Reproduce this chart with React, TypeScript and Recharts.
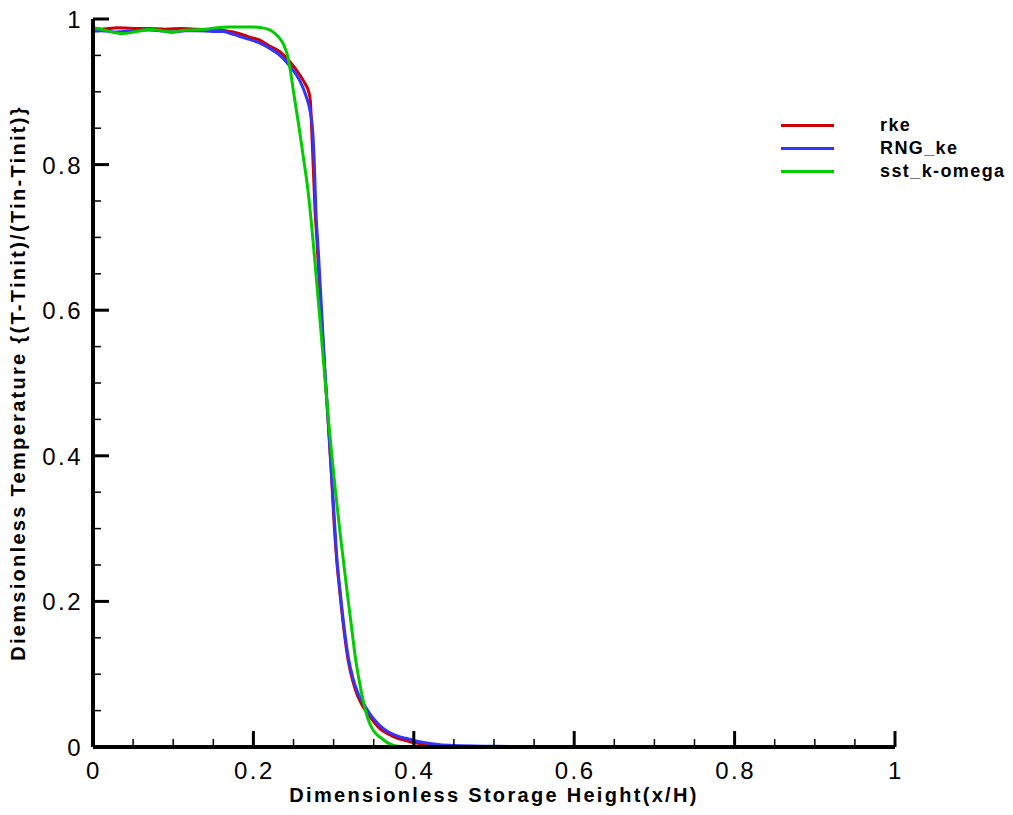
import React from "react";
import { LineChart, Line, XAxis, YAxis, Legend } from "recharts";

const rkePoints: number[][] = [
  [0, 0.988], [0.01, 0.986], [0.02, 0.987], [0.03, 0.988], [0.05, 0.987], [0.07, 0.987],
  [0.09, 0.986], [0.11, 0.987], [0.13, 0.986], [0.15, 0.985], [0.165, 0.984], [0.183, 0.98],
  [0.195, 0.975], [0.208, 0.971], [0.22, 0.963], [0.233, 0.955], [0.245, 0.942], [0.258, 0.923],
  [0.265, 0.91], [0.269, 0.9], [0.271, 0.888], [0.273, 0.84], [0.2745, 0.8], [0.277, 0.734],
  [0.279, 0.7], [0.282, 0.64], [0.286, 0.57], [0.29, 0.5], [0.293, 0.45], [0.297, 0.38],
  [0.301, 0.3], [0.304, 0.255], [0.308, 0.21], [0.313, 0.16], [0.318, 0.12], [0.324, 0.09],
  [0.33, 0.07], [0.337, 0.055], [0.345, 0.042], [0.352, 0.032], [0.358, 0.025], [0.368, 0.018],
  [0.38, 0.012], [0.39, 0.009], [0.4, 0.006], [0.42, 0.003], [0.45, 0.001], [0.5, 0],
  [0.6, 0], [0.8, 0], [1, 0],
];

const rngPoints: number[][] = [
  [0, 0.983], [0.01, 0.984], [0.03, 0.982], [0.05, 0.984], [0.07, 0.985], [0.09, 0.983],
  [0.1, 0.982], [0.115, 0.984], [0.13, 0.984], [0.15, 0.983], [0.162, 0.983], [0.172, 0.98],
  [0.183, 0.976], [0.195, 0.972], [0.208, 0.967], [0.22, 0.96], [0.233, 0.95], [0.245, 0.936],
  [0.258, 0.915], [0.266, 0.893], [0.271, 0.872], [0.274, 0.845], [0.276, 0.8], [0.278, 0.734],
  [0.281, 0.68], [0.285, 0.6], [0.289, 0.52], [0.292, 0.47], [0.296, 0.4], [0.3, 0.33],
  [0.304, 0.26], [0.308, 0.215], [0.313, 0.165], [0.318, 0.125], [0.324, 0.095], [0.33, 0.075],
  [0.337, 0.06], [0.345, 0.046], [0.352, 0.036], [0.358, 0.029], [0.368, 0.021], [0.38, 0.015],
  [0.39, 0.012], [0.4, 0.009], [0.42, 0.005], [0.45, 0.002], [0.5, 0.001], [0.6, 0],
  [0.8, 0], [1, 0],
];

const sstPoints: number[][] = [
  [0, 0.987], [0.01, 0.986], [0.02, 0.983], [0.037, 0.98], [0.05, 0.982], [0.06, 0.984],
  [0.071, 0.986], [0.085, 0.984], [0.1, 0.982], [0.11, 0.984], [0.125, 0.985], [0.14, 0.986],
  [0.155, 0.988], [0.17, 0.989], [0.185, 0.989], [0.2, 0.989], [0.21, 0.988], [0.218, 0.986],
  [0.226, 0.981], [0.233, 0.973], [0.238, 0.964], [0.242, 0.952], [0.246, 0.93], [0.25, 0.9],
  [0.254, 0.872], [0.258, 0.843], [0.263, 0.805], [0.268, 0.765], [0.273, 0.712], [0.278, 0.65],
  [0.283, 0.587], [0.288, 0.522], [0.293, 0.457], [0.298, 0.398], [0.303, 0.345], [0.308, 0.295],
  [0.312, 0.258], [0.317, 0.212], [0.322, 0.168], [0.327, 0.124], [0.333, 0.085], [0.338, 0.058],
  [0.343, 0.038], [0.35, 0.022], [0.355, 0.016], [0.361, 0.011], [0.367, 0.006], [0.373, 0.003],
  [0.38, 0.001], [0.39, 0], [0.5, 0], [1, 0],
];

const seriesNames = ["rke", "RNG_ke", "sst_k-omega"];
const seriesColors = ["#d00000", "#3434ff", "#00cc00"];

const axisTicks = [
  0, 0.05, 0.1, 0.15, 0.2, 0.25, 0.3, 0.35, 0.4, 0.45, 0.5,
  0.55, 0.6, 0.65, 0.7, 0.75, 0.8, 0.85, 0.9, 0.95, 1,
];
const majorTickLabels: Record<string, string> = {
  "0": "0", "0.2": "0.2", "0.4": "0.4", "0.6": "0.6", "0.8": "0.8", "1": "1",
};

const xTitle = "Dimensionless Storage Height(x/H)";
const yTitle = "Diemsionless Temperature {(T-Tinit)/(Tin-Tinit)}";

const toData = (pts: number[][]) => pts.map(([x, t]) => ({ x, t }));

const FONT = "'Liberation Sans', Arial, sans-serif";

const isMajor = (v: number) => Math.abs(v * 5 - Math.round(v * 5)) < 1e-6;
const labelOf = (v: number) => majorTickLabels[String(Math.round(v * 5) / 5)];

const XTick = (props: any) => {
  const { x, y, payload } = props;
  const v = payload.value as number;
  const major = isMajor(v);
  return (
    <g>
      <line x1={x} x2={x} y1={y} y2={y - (major ? 16 : 8)} stroke="#000" strokeWidth={major ? 3 : 1.5} />
      {major && (
        <text x={x + 1} y={y + 32} textAnchor="middle" fontSize={24} letterSpacing={2.5}
          fontFamily={FONT} fill="#000">
          {labelOf(v)}
        </text>
      )}
    </g>
  );
};

const YTick = (props: any) => {
  const { x, y, payload } = props;
  const v = payload.value as number;
  const major = isMajor(v);
  return (
    <g>
      <line x1={x} x2={x + (major ? 16 : 8)} y1={y} y2={y} stroke="#000" strokeWidth={major ? 3 : 1.5} />
      {major && (
        <text x={x - 10} y={y + 9} textAnchor="end" fontSize={24} letterSpacing={2.5}
          fontFamily={FONT} fill="#000">
          {labelOf(v)}
        </text>
      )}
    </g>
  );
};

const LegendContent = () => (
  <div style={{ fontFamily: FONT }}>
    {seriesNames.map((name, i) => (
      <div key={name} style={{ display: "flex", alignItems: "center", height: 23 }}>
        <div style={{ width: 53, height: 3, background: seriesColors[i] }} />
        <div style={{ marginLeft: 46, fontSize: 18, fontWeight: "bold", letterSpacing: 1.4, whiteSpace: "nowrap", color: "#000" }}>
          {name}
        </div>
      </div>
    ))}
  </div>
);

export default function App() {
  const datasets = [toData(rkePoints), toData(rngPoints), toData(sstPoints)];
  return (
    <div style={{ width: 1013, height: 815, background: "#fff", margin: -8 }}>
      <LineChart width={1013} height={815} margin={{ top: 19, right: 118, bottom: 8, left: 33 }}>
        <XAxis
          type="number"
          dataKey="x"
          domain={[0, 1]}
          ticks={axisTicks}
          interval={0}
          height={60}
          tickSize={0}
          tickMargin={0}
          tickLine={false}
          tick={<XTick />}
          axisLine={{ stroke: "#000", strokeWidth: 4 }}
          allowDataOverflow
          label={{
            content: (p: any) => {
              const vb = p.viewBox || {};
              return (
                <text x={vb.x + vb.width / 2} y={vb.y + 55} textAnchor="middle" fontSize={20}
                  fontWeight="bold" letterSpacing={2.3} fontFamily={FONT} fill="#000">
                  {xTitle}
                </text>
              );
            },
          }}
        />
        <YAxis
          type="number"
          dataKey="t"
          domain={[0, 1]}
          ticks={axisTicks}
          interval={0}
          width={60}
          tickSize={0}
          tickMargin={0}
          tickLine={false}
          tick={<YTick />}
          axisLine={{ stroke: "#000", strokeWidth: 4 }}
          allowDataOverflow
          label={{
            content: (p: any) => {
              const vb = p.viewBox || {};
              const cx = 25;
              const cy = vb.y + vb.height / 2;
              return (
                <text x={cx} y={cy} textAnchor="middle" fontSize={20} fontWeight="bold"
                  letterSpacing={2.3} fontFamily={FONT} fill="#000"
                  transform={`rotate(-90, ${cx}, ${cy})`}>
                  {yTitle}
                </text>
              );
            },
          }}
        />
        <Legend
          layout="vertical"
          align="center"
          verticalAlign="middle"
          content={<LegendContent />}
          wrapperStyle={{ left: 781, top: 114, width: 232 }}
        />
        {datasets.map((d, i) => (
          <Line
            key={seriesNames[i]}
            data={d}
            dataKey="t"
            name={seriesNames[i]}
            type="monotone"
            stroke={seriesColors[i]}
            strokeWidth={3}
            dot={false}
            activeDot={false}
            isAnimationActive={false}
          />
        ))}
      </LineChart>
    </div>
  );
}
